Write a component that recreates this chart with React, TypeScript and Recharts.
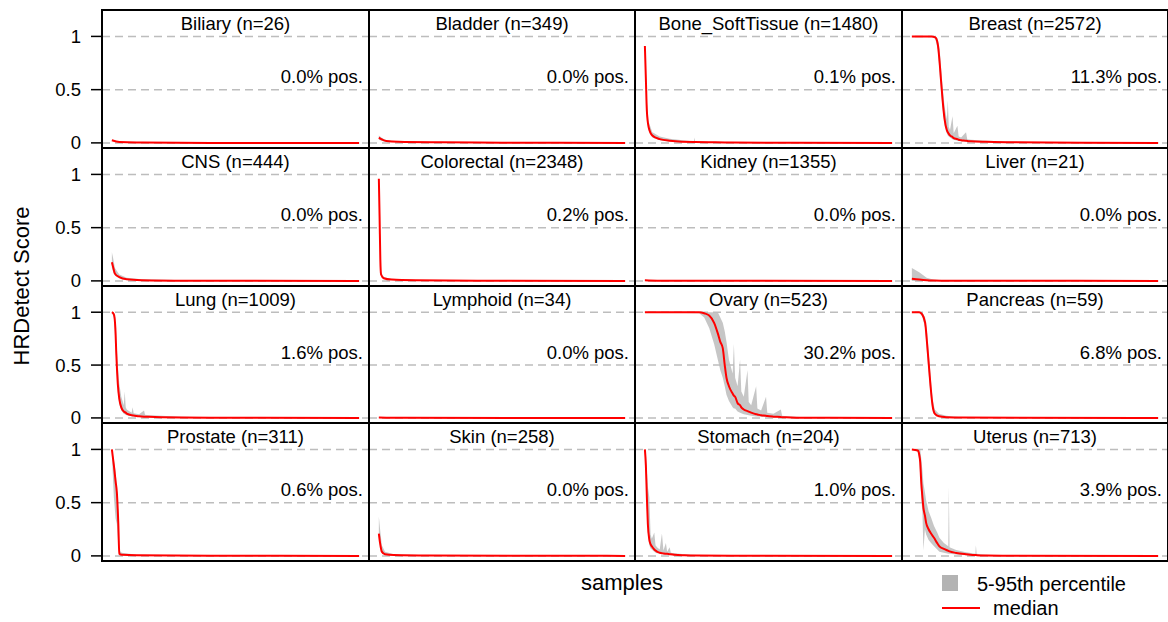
import React from "react";
import { ComposedChart, Area, Line, XAxis, YAxis, ReferenceLine } from "recharts";

// [sample rank %, median, 5th pct, 95th pct]
type Pt = [number, number, number, number];

const TISSUES = [
  "Biliary", "Bladder", "Bone_SoftTissue", "Breast",
  "CNS", "Colorectal", "Kidney", "Liver",
  "Lung", "Lymphoid", "Ovary", "Pancreas",
  "Prostate", "Skin", "Stomach", "Uterus",
];
const COUNTS = [26, 349, 1480, 2572, 444, 2348, 1355, 21, 1009, 34, 523, 59, 311, 258, 204, 713];
const POS_PCT = ["0.0", "0.0", "0.1", "11.3", "0.0", "0.2", "0.0", "0.0", "1.6", "0.0", "30.2", "6.8", "0.6", "0.0", "1.0", "3.9"];
const Y_TICKS = [0, 0.5, 1];

const biliary: Pt[] = [[0, 0.025, 0.02, 0.03], [3, 0.008, 0.005, 0.01], [10, 0.003, 0, 0.005], [40, 0, 0, 0.001], [100, 0, 0, 0]];
const bladder: Pt[] = [[0, 0.05, 0.03, 0.07], [1, 0.035, 0.02, 0.05], [3, 0.018, 0.01, 0.025], [8, 0.01, 0.005, 0.015], [25, 0.005, 0.002, 0.008], [50, 0.002, 0, 0.004], [100, 0, 0, 0]];
const boneSoft: Pt[] = [[0, 0.91, 0.88, 0.92], [0.4, 0.6, 0.5, 0.7], [0.8, 0.3, 0.25, 0.4], [1.5, 0.15, 0.12, 0.2], [3, 0.07, 0.05, 0.1], [6, 0.035, 0.025, 0.06], [10, 0.02, 0.012, 0.04], [19.8, 0.008, 0.004, 0.012], [20, 0.008, 0.004, 0.05], [20.3, 0.008, 0.004, 0.012], [35, 0.003, 0, 0.008], [60, 0.001, 0, 0.002], [100, 0, 0, 0]];
const breast: Pt[] = [[0, 1, 1, 1], [8, 1, 1, 1], [9.5, 0.99, 0.98, 1], [10.5, 0.93, 0.88, 0.98], [11.3, 0.75, 0.65, 0.88], [11.8, 0.6, 0.5, 0.72], [12.5, 0.4, 0.32, 0.52], [13.3, 0.22, 0.17, 0.34], [14.2, 0.12, 0.09, 0.22], [14.6, 0.1, 0.07, 0.4], [15, 0.085, 0.06, 0.15], [15.5, 0.07, 0.05, 0.12], [16.5, 0.055, 0.035, 0.25], [17, 0.045, 0.03, 0.09], [18.5, 0.035, 0.02, 0.16], [19, 0.03, 0.018, 0.06], [20, 0.025, 0.015, 0.05], [22, 0.02, 0.01, 0.1], [22.5, 0.018, 0.01, 0.035], [24, 0.015, 0.008, 0.03], [30, 0.01, 0.005, 0.02], [40, 0.006, 0.002, 0.012], [55, 0.003, 0, 0.006], [100, 0, 0, 0]];
const cns: Pt[] = [[0, 0.175, 0.12, 0.27], [0.6, 0.12, 0.08, 0.2], [1.2, 0.07, 0.05, 0.12], [3, 0.035, 0.025, 0.06], [6, 0.015, 0.01, 0.03], [12, 0.007, 0.003, 0.015], [30, 0.002, 0, 0.005], [100, 0, 0, 0]];
const colorectal: Pt[] = [[0, 0.96, 0.94, 0.97], [0.3, 0.6, 0.55, 0.65], [0.6, 0.2, 0.17, 0.25], [0.9, 0.06, 0.05, 0.08], [2, 0.025, 0.02, 0.035], [5, 0.012, 0.008, 0.02], [15, 0.005, 0.002, 0.008], [40, 0.001, 0, 0.003], [100, 0, 0, 0]];
const kidney: Pt[] = [[0, 0.005, 0, 0.01], [5, 0.002, 0, 0.004], [100, 0, 0, 0]];
const liver: Pt[] = [[0, 0.02, 0, 0.12], [3, 0.012, 0, 0.08], [6, 0.006, 0, 0.03], [9, 0.003, 0, 0.01], [15, 0.001, 0, 0.003], [100, 0, 0, 0]];
const lung: Pt[] = [[0, 1, 1, 1], [0.8, 0.98, 0.95, 1], [1.4, 0.85, 0.72, 0.95], [1.8, 0.6, 0.5, 0.75], [2.4, 0.32, 0.25, 0.5], [3, 0.18, 0.13, 0.32], [3.8, 0.1, 0.07, 0.2], [4.8, 0.06, 0.04, 0.12], [5.2, 0.055, 0.035, 0.25], [5.6, 0.05, 0.03, 0.1], [6, 0.04, 0.025, 0.08], [8, 0.025, 0.015, 0.05], [8.4, 0.024, 0.014, 0.1], [8.8, 0.023, 0.013, 0.045], [11, 0.015, 0.008, 0.035], [13, 0.012, 0.006, 0.07], [13.4, 0.011, 0.006, 0.03], [15, 0.01, 0.005, 0.025], [20, 0.007, 0.003, 0.02], [28, 0.004, 0.001, 0.012], [40, 0.002, 0, 0.006], [60, 0.001, 0, 0.002], [100, 0, 0, 0]];
const lymphoid: Pt[] = [[0, 0.004, 0, 0.008], [10, 0.001, 0, 0.002], [100, 0, 0, 0]];
const ovary: Pt[] = [[0, 1, 1, 1], [22, 1, 0.99, 1], [24, 0.99, 0.95, 1], [26, 0.97, 0.85, 1], [28, 0.9, 0.7, 1], [29.5, 0.8, 0.55, 1], [30.5, 0.72, 0.45, 0.95], [31.5, 0.66, 0.38, 0.9], [32.3, 0.5, 0.3, 0.82], [33, 0.38, 0.22, 0.72], [34, 0.3, 0.16, 0.55], [35.5, 0.23, 0.1, 0.42], [36, 0.21, 0.09, 0.7], [36.5, 0.2, 0.09, 0.38], [37.5, 0.14, 0.06, 0.3], [38.5, 0.12, 0.05, 0.55], [39, 0.1, 0.045, 0.25], [40, 0.08, 0.035, 0.2], [41.5, 0.065, 0.028, 0.45], [42, 0.06, 0.025, 0.15], [43, 0.05, 0.02, 0.12], [45, 0.035, 0.014, 0.3], [45.5, 0.033, 0.013, 0.09], [47, 0.025, 0.01, 0.07], [49, 0.02, 0.008, 0.2], [49.5, 0.018, 0.007, 0.05], [52, 0.012, 0.004, 0.04], [55, 0.008, 0.002, 0.08], [55.5, 0.007, 0.002, 0.02], [57, 0.006, 0.001, 0.015], [63, 0.002, 0, 0.008], [75, 0.001, 0, 0.002], [100, 0, 0, 0]];
const pancreas: Pt[] = [[0, 1, 1, 1], [3, 1, 1, 1], [4.2, 0.98, 0.96, 1], [5.4, 0.9, 0.85, 0.95], [6.2, 0.7, 0.6, 0.8], [6.9, 0.5, 0.4, 0.6], [7.6, 0.3, 0.22, 0.4], [8.4, 0.12, 0.08, 0.18], [9.3, 0.04, 0.03, 0.08], [11, 0.015, 0.01, 0.04], [14, 0.007, 0.003, 0.02], [20, 0.003, 0, 0.006], [100, 0, 0, 0]];
const prostate: Pt[] = [[0, 1, 0.95, 1], [0.8, 0.85, 0.55, 0.9], [1.5, 0.7, 0.35, 0.8], [2, 0.6, 0.3, 0.65], [2.6, 0.3, 0.1, 0.4], [3, 0.02, 0.01, 0.05], [4, 0.01, 0.005, 0.03], [10, 0.005, 0, 0.01], [40, 0.002, 0, 0.003], [100, 0, 0, 0]];
const skin: Pt[] = [[0, 0.21, 0.18, 0.37], [0.5, 0.12, 0.09, 0.25], [1.2, 0.04, 0.03, 0.1], [2.5, 0.015, 0.01, 0.04], [6, 0.008, 0.004, 0.015], [20, 0.003, 0, 0.005], [100, 0, 0, 0]];
const stomach: Pt[] = [[0, 1, 1, 1], [0.4, 0.85, 0.8, 0.95], [0.8, 0.55, 0.45, 0.8], [1.2, 0.3, 0.22, 0.65], [1.8, 0.15, 0.1, 0.55], [2.3, 0.11, 0.07, 0.2], [2.8, 0.09, 0.06, 0.16], [3.8, 0.06, 0.04, 0.22], [4.3, 0.05, 0.03, 0.1], [4.9, 0.04, 0.025, 0.08], [6, 0.03, 0.02, 0.06], [6.9, 0.025, 0.015, 0.21], [7.5, 0.023, 0.013, 0.05], [8.5, 0.02, 0.012, 0.12], [9, 0.019, 0.011, 0.04], [10, 0.016, 0.008, 0.08], [10.5, 0.015, 0.007, 0.03], [12, 0.011, 0.005, 0.025], [16, 0.006, 0.002, 0.015], [21, 0.003, 0, 0.008], [35, 0.001, 0, 0.002], [100, 0, 0, 0]];
const uterus: Pt[] = [[0, 1, 1, 1], [2.4, 0.99, 0.98, 1], [3, 0.95, 0.9, 1], [3.4, 0.88, 0.75, 1], [3.8, 0.7, 0.55, 0.92], [4.3, 0.55, 0.4, 0.8], [4.7, 0.45, 0.05, 0.68], [5.3, 0.38, 0.25, 0.6], [5.8, 0.31, 0.2, 0.52], [6.8, 0.25, 0.15, 0.42], [7.8, 0.21, 0.12, 0.36], [9, 0.17, 0.09, 0.28], [10.3, 0.12, 0.06, 0.22], [11.2, 0.09, 0.04, 0.17], [13, 0.065, 0.03, 0.12], [14.8, 0.047, 0.02, 0.09], [15, 0.045, 0.02, 0.65], [15.3, 0.042, 0.02, 0.08], [18, 0.028, 0.012, 0.055], [22, 0.016, 0.006, 0.035], [25.8, 0.008, 0.002, 0.02], [26, 0.008, 0.002, 0.1], [26.3, 0.007, 0.002, 0.02], [30, 0.003, 0, 0.01], [40, 0.001, 0, 0.003], [100, 0, 0, 0]];

const CURVES: Pt[][] = [
  biliary, bladder, boneSoft, breast,
  cns, colorectal, kidney, liver,
  lung, lymphoid, ovary, pancreas,
  prostate, skin, stomach, uterus,
];

const FONT = "'Liberation Sans', Arial, Helvetica, sans-serif";
const LEFT = 102;
const TOP = 10;
const COL_W = 266.5;
const ROW_H = 137.75;
const AXIS_W = 60;

function Panel({ i }: { i: number }) {
  const col = i % 4;
  const row = Math.floor(i / 4);
  const x0 = Math.round(LEFT + col * COL_W);
  const x1 = Math.round(LEFT + (col + 1) * COL_W);
  const y0 = Math.round(TOP + row * ROW_H);
  const y1 = Math.round(TOP + (row + 1) * ROW_H);
  const w = x1 - x0;
  const h = y1 - y0;
  const data = CURVES[i].map(([x, med, lo, hi]) => ({ x, med, band: [lo, hi] }));
  const withAxis = col === 0;
  return (
    <>
      <div style={{ position: "absolute", left: withAxis ? x0 - AXIS_W : x0, top: y0 }}>
        <ComposedChart
          width={withAxis ? w + AXIS_W : w}
          height={h}
          data={data}
          margin={{ top: 0, right: 0, bottom: 0, left: 0 }}
        >
          <XAxis type="number" dataKey="x" domain={[-4, 104]} hide />
          <YAxis
            type="number"
            domain={[-0.048, 1.248]}
            ticks={Y_TICKS}
            interval={0}
            hide={!withAxis}
            width={AXIS_W}
            axisLine={false}
            tickSize={11}
            tickMargin={10}
            tickLine={{ stroke: "#000", strokeWidth: 1.5 }}
            tick={{ fill: "#000", fontSize: 18.5, fontFamily: FONT }}
            allowDataOverflow
          />
          {Y_TICKS.map((t) => (
            <ReferenceLine key={t} y={t} stroke="#bdbdbd" strokeWidth={1.5} strokeDasharray="8 5" />
          ))}
          <Area
            type="linear"
            dataKey="band"
            stroke="none"
            fill="#b3b3b3"
            fillOpacity={0.75}
            isAnimationActive={false}
          />
          <Line
            type="monotone"
            dataKey="med"
            stroke="#ff0000"
            strokeWidth={2}
            dot={false}
            isAnimationActive={false}
          />
        </ComposedChart>
      </div>
      <div
        style={{
          position: "absolute", left: x0, top: y0, width: w, height: h,
          boxSizing: "border-box", border: "1px solid #000", pointerEvents: "none",
        }}
      />
      <div
        style={{
          position: "absolute", left: x0, top: y0 + 3, width: w, textAlign: "center",
          fontSize: 18.5, lineHeight: "22px", fontFamily: FONT, color: "#000",
        }}
      >
        {TISSUES[i]} (n={COUNTS[i]})
      </div>
      <div
        style={{
          position: "absolute", left: x0, top: y0 + 56, width: w - 6, textAlign: "right",
          fontSize: 18.5, lineHeight: "22px", fontFamily: FONT, color: "#000",
        }}
      >
        {POS_PCT[i]}% pos.
      </div>
    </>
  );
}

export default function App() {
  return (
    <div style={{ position: "absolute", left: 0, top: 0, width: 1168, height: 622, background: "#fff", fontFamily: FONT }}>
      <style>{`.recharts-surface, .recharts-wrapper { overflow: visible !important; }`}</style>
      <div
        style={{
          position: "absolute", left: LEFT - 1, top: TOP - 1, width: 4 * COL_W + 2, height: 4 * ROW_H + 2,
          boxSizing: "border-box", border: "1px solid #000",
        }}
      />
      {TISSUES.map((_, i) => (
        <Panel key={i} i={i} />
      ))}
      <div
        style={{
          position: "absolute", left: 22 - 100, top: 286 - 14, width: 200, height: 28, lineHeight: "28px",
          textAlign: "center", fontSize: 22, transform: "rotate(-90deg)",
        }}
      >
        HRDetect Score
      </div>
      <div style={{ position: "absolute", left: 522, top: 569, width: 200, textAlign: "center", fontSize: 22, lineHeight: "28px" }}>
        samples
      </div>
      <div style={{ position: "absolute", left: 942, top: 575, width: 16, height: 16, background: "#b3b3b3" }} />
      <div style={{ position: "absolute", left: 977, top: 571, fontSize: 20, lineHeight: "26px" }}>5-95th percentile</div>
      <div style={{ position: "absolute", left: 942, top: 607, width: 38, height: 2, background: "#ff0000" }} />
      <div style={{ position: "absolute", left: 993, top: 595, fontSize: 20, lineHeight: "26px" }}>median</div>
    </div>
  );
}
